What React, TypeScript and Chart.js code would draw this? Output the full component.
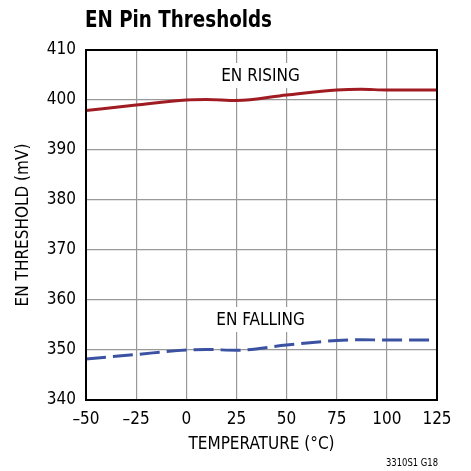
import React, { useEffect, useRef } from "react";
import { Chart, registerables } from "chart.js";

Chart.register(...registerables);

const temperatures = [-50, -25, 0, 10, 25, 50, 75, 87, 100, 125];
const enRising = [397.9, 399.0, 400.0, 400.1, 399.9, 401.0, 402.0, 402.15, 402.0, 402.0];
const enFalling = [348.2, 349.1, 350.0, 350.1, 349.95, 351.0, 351.9, 352.05, 352.0, 352.0];
const xTicks = [-50, -25, 0, 25, 50, 75, 100, 125];
const yTicks = [340, 350, 360, 370, 380, 390, 400, 410];

const FONT = "'Liberation Sans Narrow', 'DejaVu Sans Condensed', 'Liberation Sans', sans-serif";

const drawFitted = (ctx: any, text: string, x: number, y: number, width: number) => {
  const w = ctx.measureText(text).width;
  ctx.save();
  ctx.translate(x, y);
  ctx.scale(width / w, 1);
  ctx.fillText(text, 0, 0);
  ctx.restore();
};

const overlayPlugin = {
  id: "overlay",
  afterDatasetsDraw(chart: any) {
    const { ctx, scales } = chart;
    const xs = scales.x;
    const ys = scales.y;
    ctx.save();
    ctx.fillStyle = "#000";
    ctx.font = `bold 23px ${FONT}`;
    ctx.textAlign = "left";
    ctx.textBaseline = "alphabetic";
    drawFitted(ctx, "EN Pin Thresholds", 85, 27, 187);

    const label = (text: string, xv: number, yv: number) => {
      ctx.font = `17px ${FONT}`;
      const w = ctx.measureText(text).width;
      const cx = xs.getPixelForValue(xv);
      const cy = ys.getPixelForValue(yv);
      ctx.fillStyle = "#fff";
      ctx.fillRect(cx - w / 2 - 3, cy - 13, w + 6, 25);
      ctx.fillStyle = "#000";
      ctx.textAlign = "center";
      ctx.textBaseline = "middle";
      ctx.fillText(text, cx, cy + 1);
    };
    label("EN RISING", 37, 404.8);
    label("EN FALLING", 37, 356);

    ctx.font = `10px ${FONT}`;
    ctx.textAlign = "left";
    ctx.textBaseline = "middle";
    ctx.fillStyle = "#000";
    drawFitted(ctx, "3310S1 G18", 386, 463, 52);
    ctx.restore();
  },
};

export default function App() {
  const ref = useRef<HTMLCanvasElement>(null);
  useEffect(() => {
    if (!ref.current) return;
    const chart = new Chart(ref.current, {
      type: "line",
      data: {
        datasets: [
          {
            label: "EN RISING",
            data: temperatures.map((t, i) => ({ x: t, y: enRising[i] })),
            borderColor: "#A01C22",
            borderWidth: 3,
            pointRadius: 0,
            cubicInterpolationMode: "monotone",
            fill: false,
          },
          {
            label: "EN FALLING",
            data: temperatures.map((t, i) => ({ x: t, y: enFalling[i] })),
            borderColor: "#3B52A3",
            borderWidth: 3,
            borderDash: [20, 7],
            pointRadius: 0,
            cubicInterpolationMode: "monotone",
            fill: false,
          },
        ],
      },
      options: {
        animation: false,
        responsive: false,
        devicePixelRatio: 1,
        layout: { padding: { left: 13.8, right: 34, top: 50, bottom: 16.3 } },
        plugins: {
          legend: { display: false },
          tooltip: { enabled: false },
        },
        scales: {
          x: {
            type: "linear",
            min: -50,
            max: 125,
            afterBuildTicks: (s: any) => {
              s.ticks = xTicks.map((v) => ({ value: v }));
            },
            afterFit: (s: any) => {
              s.height = 54.7;
            },
            grid: { color: "#999", lineWidth: 1.2, drawTicks: false },
            border: { color: "#000", width: 2 },
            ticks: {
              color: "#000",
              font: { family: FONT, size: 17 },
              padding: 9,
              maxRotation: 0,
              autoSkip: false,
              callback: (v: any) => (Number(v) < 0 ? "\u2013" + Math.abs(Number(v)) : String(v)),
            },
            title: {
              display: true,
              text: "TEMPERATURE (°C)",
              color: "#000",
              font: { family: FONT, size: 17 },
              padding: 0,
            },
          },
          y: {
            type: "linear",
            min: 340,
            max: 410,
            afterBuildTicks: (s: any) => {
              s.ticks = yTicks.map((v) => ({ value: v }));
            },
            afterFit: (s: any) => {
              s.width = 72.2;
            },
            grid: { color: "#999", lineWidth: 1.2, drawTicks: false },
            border: { color: "#000", width: 2 },
            ticks: {
              color: "#000",
              font: { family: FONT, size: 17 },
              padding: 10,
              autoSkip: false,
            },
            title: {
              display: true,
              text: "EN THRESHOLD (mV)",
              color: "#000",
              font: { family: FONT, size: 17 },
              padding: 0,
            },
          },
        },
      },
      plugins: [
        overlayPlugin,
        {
          id: "frame",
          afterDatasetsDraw(chart: any) {
            const { ctx, chartArea: a } = chart;
            ctx.save();
            ctx.strokeStyle = "#000";
            ctx.lineWidth = 2;
            ctx.strokeRect(a.left, a.top, a.right - a.left, a.bottom - a.top);
            ctx.restore();
          },
        },
      ],
    } as any);
    return () => chart.destroy();
  }, []);
  return (
    <div style={{ position: "fixed", left: 0, top: 0, width: 471, height: 471, background: "#fff" }}>
      <canvas ref={ref} width={471} height={471} style={{ width: 471, height: 471 }} />
    </div>
  );
}
